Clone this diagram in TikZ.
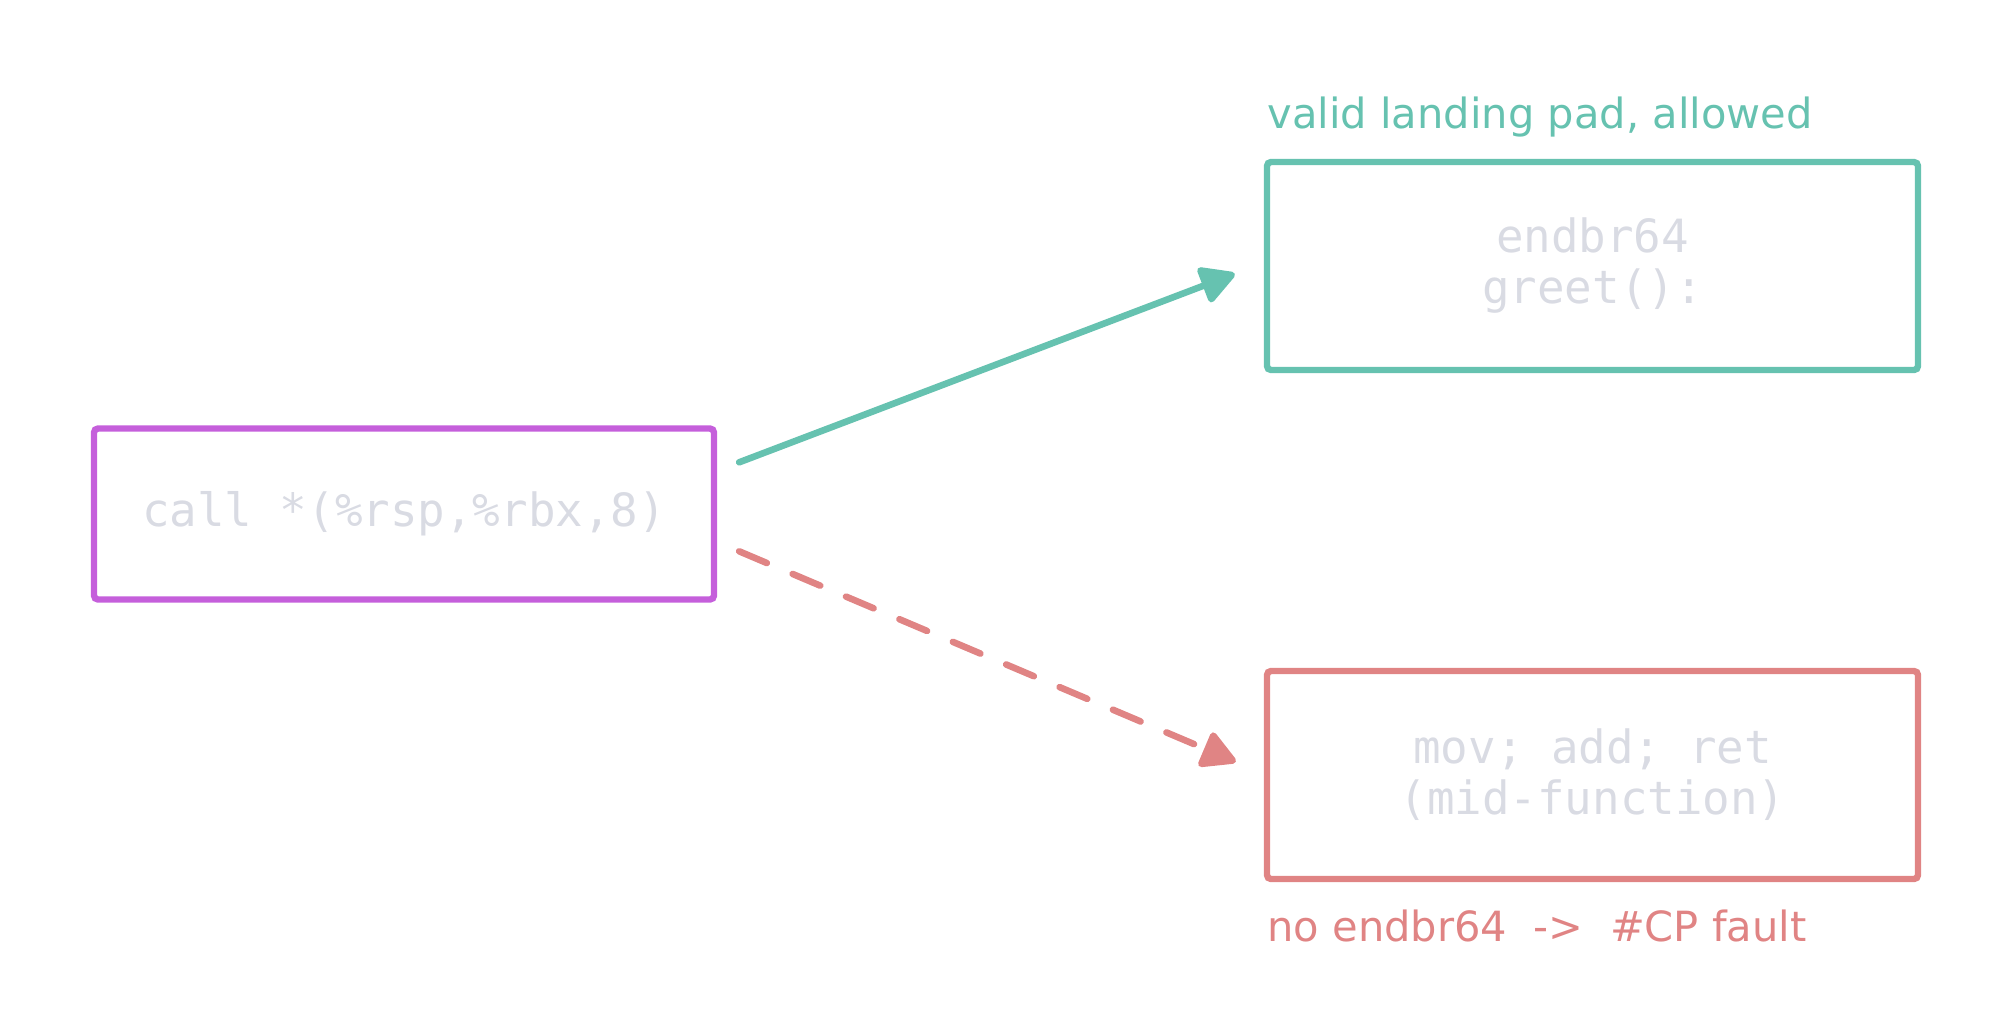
\documentclass[tikz,border=0pt]{standalone}
\usepackage{fontspec}
\setmainfont{DejaVu Sans}
\newfontfamily\codefont{DejaVu Sans Mono}
\usetikzlibrary{arrows.meta}

\definecolor{okgreen}{HTML}{66C2B0}
\definecolor{badred}{HTML}{E08484}
\definecolor{callpurple}{HTML}{C55FDB}
\definecolor{codegray}{HTML}{D9DBE3}

\begin{document}
\begin{tikzpicture}[x=0.5pt, y=-0.5pt,
  box/.style={draw, line width=3.2pt, rounded corners=2pt, inner sep=0pt,
    align=center, text=codegray, font=\codefont\fontsize{22.9}{25.5}\selectfont},
  note/.style={anchor=base west, inner sep=0pt, font=\fontsize{20.8}{24}\selectfont},
  link/.style={line width=3.3pt, line cap=round,
    -{Triangle[length=19pt, width=20pt, round]}}]

  \useasboundingbox (0,0) rectangle (2013,1030);

  % 调用点
  \node[box, draw=callpurple, minimum width=310pt, minimum height=85.5pt]
       (call) at (404,514) {call *(\%rsp,\%rbx,8)};

  % 两个目标
  \node[box, draw=okgreen, minimum width=325.5pt, minimum height=104pt]
       (greet) at (1592.5,266) {endbr64\\greet():};
  \node[box, draw=badred, minimum width=325.5pt, minimum height=104pt]
       (midfn) at (1592.5,775) {mov; add; ret\\(mid-function)};

  % 说明文字
  \node[note, text=okgreen] (oklabel) at (1267,128) {valid landing pad, allowed};
  \node[note, text=badred] (badlabel) at (1267,941) {no endbr64\ \ ->\ \ \#CP fault};

  % 合法跳转（实线）
  \draw[link, okgreen]
       ([shift={(22,37)}]call.north east) -- ([shift={(-29,115)}]greet.north west);

  % 非法跳转（虚线）
  \draw[link, badred, dash pattern=on 15pt off 14pt]
       ([shift={(22,126)}]call.north east) -- ([shift={(-28,94)}]midfn.north west);

\end{tikzpicture}
\end{document}
